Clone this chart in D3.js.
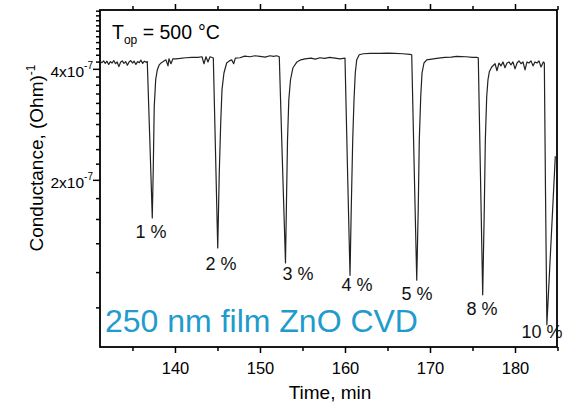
<!DOCTYPE html>
<html><head><meta charset="utf-8">
<script src="https://cdn.jsdelivr.net/npm/d3@7"></script>
<style>body{margin:0;background:#fff}svg{display:block}text{font-family:"Liberation Sans",Arial,Helvetica,sans-serif;white-space:pre}</style>
</head><body><svg id="c" width="572" height="405"></svg>
<script>
// Time, min
const timeMin = [
131.2,131.4,131.6,131.8,132.0,132.2,132.4,132.6,132.8,133.0,133.2,133.4,133.6,133.8,134.0,134.2,134.4,134.6,134.8,135.0,135.2,135.4,135.6,135.8,136.0,136.2,136.4,136.6,136.74,
137.05,137.33,137.45,137.56,137.73,137.92,138.15,138.40,138.62,138.94,139.18,139.29,139.53,139.76,140.12,140.59,141.29,142.00,142.71,143.18,143.41,143.65,143.88,144.12,144.44,
144.51,144.77,145.03,145.21,145.38,145.53,145.76,146.08,146.40,146.67,146.90,147.10,147.65,148.20,148.82,149.40,150.00,150.60,151.18,151.60,151.96,152.27,
152.63,153.00,153.12,153.24,153.39,153.59,153.88,154.35,154.80,155.29,156.00,156.50,157.06,157.60,158.20,158.82,159.40,160.00,
160.30,160.59,160.74,160.91,161.06,161.21,161.38,161.68,162.15,163.00,164.12,165.00,165.88,166.80,167.65,167.85,
168.15,168.44,168.62,168.74,168.91,169.06,169.29,169.61,170.39,171.00,171.76,172.50,173.14,174.24,175.00,175.49,175.68,
175.94,176.20,176.39,176.51,176.67,176.82,176.98,177.26,177.65,177.88,178.12,178.35,178.59,178.82,179.06,179.29,179.53,179.76,180.00,180.24,180.47,180.71,180.94,181.18,181.41,181.65,181.88,182.12,182.35,182.59,182.82,183.06,183.33,183.45,
183.59,183.75,184.74
];
// Conductance, in units of 1e-7 (Ohm)^-1
const conductanceE7 = [
4.20,4.17,4.22,4.15,4.21,4.12,4.20,4.16,4.23,4.14,4.19,4.06,4.18,4.22,4.15,4.20,4.10,4.19,4.23,4.16,4.21,4.12,4.20,4.17,4.24,4.15,4.21,4.18,4.20,
2.50,1.61,2.16,3.12,3.72,3.97,4.11,4.17,4.20,4.25,4.08,4.28,4.14,4.28,4.28,4.29,4.31,4.32,4.32,4.34,4.14,4.34,4.19,4.34,4.31,
4.30,2.35,1.365,2.08,2.82,3.48,3.89,4.16,4.22,4.25,4.14,4.30,4.31,4.36,4.34,4.37,4.35,4.33,4.37,4.35,4.37,4.34,
2.25,1.26,1.78,2.54,3.26,3.72,4.03,4.19,4.25,4.28,4.30,4.27,4.31,4.29,4.32,4.30,4.28,4.30,
2.11,1.18,1.71,2.54,3.26,3.89,4.25,4.40,4.43,4.44,4.44,4.45,4.44,4.43,4.41,4.40,
2.10,1.15,1.71,2.54,3.33,3.89,4.16,4.25,4.28,4.30,4.32,4.33,4.35,4.34,4.32,4.32,4.31,
2.04,1.066,1.71,2.54,3.33,3.72,3.92,4.05,4.14,3.95,4.16,4.08,4.19,4.03,4.16,4.19,4.11,4.19,4.00,4.16,4.22,4.14,4.19,3.97,4.19,4.16,4.22,4.08,4.19,4.16,4.22,4.05,4.19,4.16,
1.84,0.916,2.30
];
const xDomain = [131.18, 184.94];
const yDomain = [0.821, 6.03];
const xMajorTicks = [140,150,160,170,180];
const xMinorTicks = [135,145,155,165,175,185];
const yMajorTicks = [2,4];
const yMajorLabels = ["2x10","4x10"];
const yLabelExponent = "-7";
const yMinorTicks = [1.0,1.2,1.4,1.6,1.8,2.2,2.4,2.6,2.8,3.0,3.2,3.4,3.6,3.8,4.2,4.4,4.6,4.8,5.0,5.2,5.4,5.6,5.8,6.0];
const concLabels = ["1 %","2 %","3 %","4 %","5 %","8 %","10 %"];
const concLabelTime = [137.18,145.41,154.47,161.41,168.47,176.12,183.18];
const concLabelCond = [1.44,1.214,1.152,1.088,1.039,0.963,0.858];

const svg = d3.select("#c");
const M = {l:100, r:557, t:10, b:347};
const x = d3.scaleLinear().domain(xDomain).range([M.l, M.r]);
const y = d3.scalePow().exponent(-0.2).domain(yDomain).range([M.b, M.t]);

function clean(g){ g.select(".domain").remove(); g.selectAll(".tick line").attr("stroke","#000").attr("stroke-width",1.5); }

// bottom
svg.append("g").attr("transform",`translate(0,${M.b})`)
  .call(d3.axisBottom(x).tickValues(xMajorTicks).tickSize(6).tickPadding(9).tickFormat(d3.format("d")))
  .call(clean)
  .call(g=>g.selectAll("text").attr("font-size",16.5).attr("fill","#000").attr("font-family",null));
svg.append("g").attr("transform",`translate(0,${M.b})`)
  .call(d3.axisBottom(x).tickValues(xMinorTicks).tickSize(4).tickFormat(""))
  .call(clean);
// top
svg.append("g").attr("transform",`translate(0,${M.t})`)
  .call(d3.axisTop(x).tickValues(xMajorTicks).tickSize(6).tickFormat(""))
  .call(clean);
svg.append("g").attr("transform",`translate(0,${M.t})`)
  .call(d3.axisTop(x).tickValues(xMinorTicks).tickSize(4).tickFormat(""))
  .call(clean);
// left
svg.append("g").attr("transform",`translate(${M.l},0)`)
  .call(d3.axisLeft(y).tickValues(yMajorTicks).tickSize(7).tickFormat(""))
  .call(clean);
svg.append("g").attr("transform",`translate(${M.l},0)`)
  .call(d3.axisLeft(y).tickValues(yMinorTicks).tickSize(4).tickFormat(""))
  .call(clean);

yMajorTicks.forEach((v,i)=>{
  const t = svg.append("text").attr("x",93).attr("y",y(v)+8.5).attr("text-anchor","end")
    .attr("font-size",15.5).attr("fill","#000").text(yMajorLabels[i]);
  t.append("tspan").attr("dy",-8).attr("font-size",10).text(yLabelExponent);
});

// frame
svg.append("rect").attr("x",M.l).attr("y",M.t).attr("width",M.r-M.l).attr("height",M.b-M.t)
  .attr("fill","none").attr("stroke","#000").attr("stroke-width",1.8);

// data
const pts = timeMin.map((t,i)=>[t, conductanceE7[i]]);
svg.append("path").datum(pts)
  .attr("d", d3.line().x(d=>x(d[0])).y(d=>y(d[1])))
  .attr("fill","none").attr("stroke","#222").attr("stroke-width",1.2).attr("stroke-linejoin","round");

// concentration labels
concLabels.forEach((s,i)=>{
  svg.append("text").attr("x",x(concLabelTime[i])).attr("y",y(concLabelCond[i]))
    .attr("text-anchor","middle").attr("font-size",18).attr("fill","#111").text(s);
});

// titles
svg.append("text").attr("x",330).attr("y",399).attr("text-anchor","middle")
  .attr("font-size",19).attr("fill","#000").text("Time, min");
const yl = svg.append("text").attr("transform","translate(43,158) rotate(-90)")
  .attr("text-anchor","middle").attr("font-size",19).attr("fill","#000").text("Conductance, (Ohm)");
yl.append("tspan").attr("dy",-8).attr("font-size",12).text("-1");

// T_op annotation
const ta = svg.append("text").attr("x",112).attr("y",39).attr("font-size",19.5).attr("fill","#000").text("T");
ta.append("tspan").attr("dy",5).attr("font-size",12).text("op");
ta.append("tspan").attr("dy",-5).attr("font-size",19.5).text(" = 500");
ta.append("tspan").attr("dx",6).attr("font-size",19.5).text("°C");

// film annotation
svg.append("text").attr("x",105).attr("y",332).attr("font-size",32).attr("fill","#219bcd")
  .text("250 nm film ZnO CVD");
</script></body></html>
